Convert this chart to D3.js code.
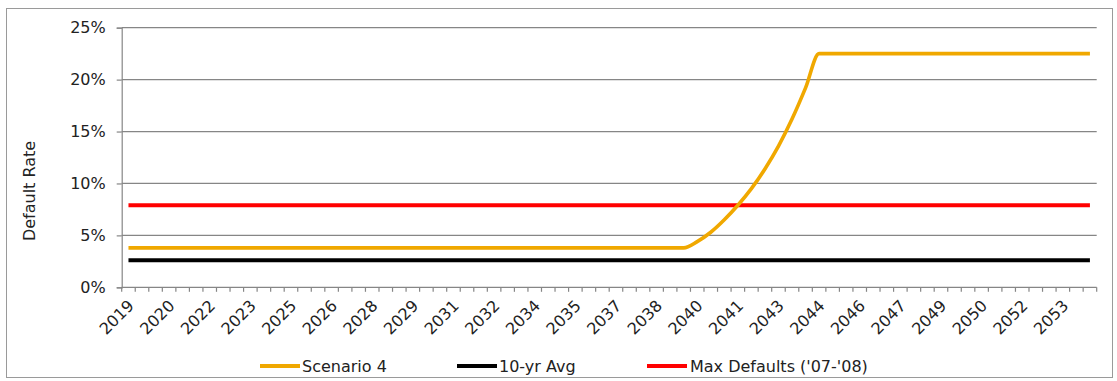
<!DOCTYPE html>
<html><head><meta charset="utf-8">
<script src="https://cdn.jsdelivr.net/npm/d3@7"></script>
<style>
html,body{margin:0;padding:0;background:#fff;}
svg text{font-family:"DejaVu Sans",Verdana,sans-serif;fill:#222;}
</style></head>
<body><svg id="c" width="1117" height="381"></svg>
<script>
// Semi-annual periods 2019 H1 .. 2054 H2 (72 categories)
const periods = d3.range(72).map(i => (2019 + Math.floor(i/2)) + (i%2 ? " H2" : " H1"));
const tickLabels = ["2019","2020","2022","2023","2025","2026","2028","2029","2031","2032","2034","2035",
  "2037","2038","2040","2041","2043","2044","2046","2047","2049","2050","2052","2053"];
const scenario4 = [
  3.8,3.8,3.8,3.8,3.8,3.8,3.8,3.8,3.8,3.8,3.8,3.8,3.8,3.8,3.8,3.8,3.8,3.8,3.8,3.8,3.8,
  3.8,3.8,3.8,3.8,3.8,3.8,3.8,3.8,3.8,3.8,3.8,3.8,3.8,3.8,3.8,3.8,3.8,3.8,3.8,3.8,3.8,
  4.4,5.3,6.5,7.9,9.5,11.4,13.6,16.2,19.2,
  22.5,22.5,22.5,22.5,22.5,22.5,22.5,22.5,22.5,22.5,22.5,22.5,22.5,22.5,22.5,22.5,22.5,22.5,22.5,22.5,22.5];
const avg10yr = [
  2.6,2.6,2.6,2.6,2.6,2.6,2.6,2.6,2.6,2.6,2.6,2.6,2.6,2.6,2.6,2.6,2.6,2.6,2.6,2.6,2.6,2.6,2.6,2.6,
  2.6,2.6,2.6,2.6,2.6,2.6,2.6,2.6,2.6,2.6,2.6,2.6,2.6,2.6,2.6,2.6,2.6,2.6,2.6,2.6,2.6,2.6,2.6,2.6,
  2.6,2.6,2.6,2.6,2.6,2.6,2.6,2.6,2.6,2.6,2.6,2.6,2.6,2.6,2.6,2.6,2.6,2.6,2.6,2.6,2.6,2.6,2.6,2.6];
const maxDefaults = [
  7.9,7.9,7.9,7.9,7.9,7.9,7.9,7.9,7.9,7.9,7.9,7.9,7.9,7.9,7.9,7.9,7.9,7.9,7.9,7.9,7.9,7.9,7.9,7.9,
  7.9,7.9,7.9,7.9,7.9,7.9,7.9,7.9,7.9,7.9,7.9,7.9,7.9,7.9,7.9,7.9,7.9,7.9,7.9,7.9,7.9,7.9,7.9,7.9,
  7.9,7.9,7.9,7.9,7.9,7.9,7.9,7.9,7.9,7.9,7.9,7.9,7.9,7.9,7.9,7.9,7.9,7.9,7.9,7.9,7.9,7.9,7.9,7.9];
const yTicks = [0,5,10,15,20,25];
const seriesNames = ["Scenario 4","10-yr Avg","Max Defaults ('07-'08)"];
const seriesColors = ["#F0A800","#000000","#FF0000"];

const svg = d3.select("#c");
const L = 121.7, R = 1096.7, T = 27.7, B = 287.3;

// chart frame
svg.append("rect").attr("x",6.5).attr("y",8.5).attr("width",1106).attr("height",369)
  .attr("fill","#fff").attr("stroke","#9a9a9a").attr("stroke-width",1);

const x = d3.scaleBand().domain(d3.range(periods.length)).range([L,R]).padding(0);
const cx = i => x(i) + x.bandwidth()/2;
const y = d3.scaleLinear().domain([0,25]).range([B,T]);

// gridlines
svg.append("g").selectAll("line").data(yTicks.filter(d=>d>0)).join("line")
  .attr("x1",L).attr("x2",R).attr("y1",d=>y(d)).attr("y2",d=>y(d))
  .attr("stroke","#868686").attr("stroke-width",1.2);

// y axis
const yAxis = svg.append("g").attr("transform",`translate(${L},0)`)
  .call(d3.axisLeft(y).tickValues(yTicks).tickFormat(d=>d+"%").tickSize(5).tickPadding(11));
yAxis.select(".domain").attr("stroke","#868686").attr("stroke-width",1.2);
yAxis.selectAll(".tick line").attr("stroke","#868686").attr("stroke-width",1.2);
yAxis.selectAll("text").attr("font-size","16px").attr("fill","#222")
  .style("font-family","'DejaVu Sans',Verdana,sans-serif");

// x axis line + ticks at band boundaries
svg.append("line").attr("x1",L).attr("x2",R).attr("y1",B).attr("y2",B)
  .attr("stroke","#868686").attr("stroke-width",1.2);
const bounds = d3.range(periods.length+1).map(i => i < periods.length ? x(i) : R);
svg.append("g").selectAll("line").data(bounds).join("line")
  .attr("x1",d=>d).attr("x2",d=>d).attr("y1",B).attr("y2",B+4.5)
  .attr("stroke","#868686").attr("stroke-width",1.2);

// x tick labels every 3rd category
svg.append("g").selectAll("text").data(tickLabels).join("text")
  .attr("transform",(d,k)=>`translate(${cx(k*3)-2},${B+11}) rotate(-45)`)
  .attr("text-anchor","end").attr("dy","0.75em").attr("font-size","16px").text(d=>d);

// y axis title
svg.append("text").attr("transform","translate(35,191) rotate(-90)")
  .attr("text-anchor","middle").attr("font-size","16px").text("Default Rate");

// lines
const line = d3.line().x((d,i)=>cx(i)).y(d=>y(d)).curve(d3.curveMonotoneX);
const allSeries = [avg10yr, maxDefaults, scenario4];
const allColors = [seriesColors[1], seriesColors[2], seriesColors[0]];
svg.append("g").selectAll("path").data(allSeries).join("path")
  .attr("d",line).attr("fill","none")
  .attr("stroke",(d,i)=>allColors[i]).attr("stroke-width",(d,i)=>i==2?3.6:4);

// legend
const legendX = [260, 457, 647];
const lg = svg.append("g").selectAll("g").data(seriesNames).join("g")
  .attr("transform",(d,i)=>`translate(${legendX[i]},366)`);
lg.append("line").attr("x1",0).attr("x2",40).attr("y1",0).attr("y2",0)
  .attr("stroke",(d,i)=>seriesColors[i]).attr("stroke-width",4);
lg.append("text").attr("x",(d,i)=>i==2?43:42).attr("dy","0.36em").attr("font-size","16px").text(d=>d);
</script></body></html>
